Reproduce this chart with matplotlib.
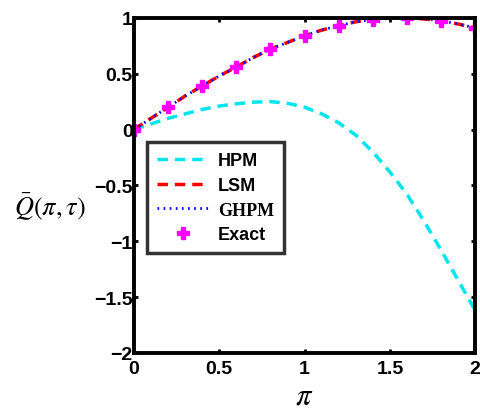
import numpy as np
import matplotlib
matplotlib.use("Agg")
import matplotlib.pyplot as plt

plt.rcParams['mathtext.fontset'] = 'stix'

x_hpm = [0, 0.1, 0.2, 0.3, 0.4, 0.5, 0.6, 0.7, 0.8, 0.9, 1.0, 1.1, 1.2, 1.3, 1.4, 1.5, 1.6, 1.7, 1.8, 1.9, 2.0]
y_hpm = [0, 0.05, 0.10, 0.14, 0.18, 0.21, 0.23, 0.245, 0.25, 0.235, 0.20, 0.14, 0.06, -0.05, -0.20, -0.38, -0.58, -0.82, -1.08, -1.35, -1.62]

x_exact = [0, 0.2, 0.4, 0.6, 0.8, 1.0, 1.2, 1.4, 1.6, 1.8, 2.0]
y_exact = [0, 0.20, 0.39, 0.56, 0.72, 0.84, 0.93, 0.985, 1.0, 0.975, 0.91]

x_lsm = [0, 0.1, 0.2, 0.3, 0.4, 0.5, 0.6, 0.7, 0.8, 0.9, 1.0, 1.1, 1.2, 1.3, 1.4, 1.5, 1.6, 1.7, 1.8, 1.9, 2.0]
y_lsm = [0, 0.10, 0.20, 0.30, 0.39, 0.48, 0.56, 0.645, 0.72, 0.78, 0.84, 0.89, 0.93, 0.965, 0.985, 0.998, 1.0, 0.99, 0.975, 0.945, 0.91]
y_ghpm = y_lsm

xticks = [0, 0.5, 1, 1.5, 2]
xtick_labels = ['0', '0.5', '1', '1.5', '2']
yticks = [-2, -1.5, -1, -0.5, 0, 0.5, 1]
ytick_labels = ['\u22122', '\u22121.5', '\u22121', '\u22120.5', '0', '0.5', '1']

fig = plt.figure(figsize=(4.8, 4.1), dpi=100)
ax = fig.add_axes([0.279, 0.137, 0.711, 0.817])

ax.plot(x_hpm, y_hpm, color='#00e5ee', ls=(0, (3, 2)), lw=2.5, label='HPM')
ax.plot(x_lsm, y_lsm, color='red', ls=(0, (3, 2)), lw=2.5, label='LSM')
ax.plot(x_lsm, y_ghpm, color='blue', ls=(0, (0.6, 1.6)), lw=2, label='GHPM')
ax.plot(x_exact, y_exact, ls='none', marker='P', ms=8.5, color='magenta', label='Exact')

ax.set_xlim(0, 2)
ax.set_ylim(-2, 1)
ax.set_xticks(xticks)
ax.set_xticklabels(xtick_labels, fontweight='bold', family='Liberation Sans', fontsize=14)
ax.set_yticks(yticks)
ax.set_yticklabels(ytick_labels, fontweight='bold', family='Liberation Sans', fontsize=14)
ax.tick_params(axis='x', pad=5)
ax.tick_params(axis='y', pad=1)
ax.tick_params(direction='in', length=3, width=2, top=True, right=True)
for s in ax.spines.values():
    s.set_linewidth(2.8)

ax.set_xlabel(r'$\pi$', fontsize=22, labelpad=3)
ax.text(-0.245, 0.436, r'$\bar{Q}(\pi,\tau)$', transform=ax.transAxes, fontsize=19,
        ha='center', va='center')

leg = ax.legend(loc='upper left', bbox_to_anchor=(0.038, 0.628), frameon=True, fancybox=False,
                edgecolor='black', handlelength=2.9, handletextpad=0.5, borderpad=0.55,
                labelspacing=0.42, borderaxespad=0,
                prop={'family': 'Liberation Sans', 'weight': 'bold', 'size': 13})
leg.get_frame().set_linewidth(2.5)
texts = leg.get_texts()
texts[2].set_family('Liberation Serif')

fig.savefig('out.png', dpi=100)
